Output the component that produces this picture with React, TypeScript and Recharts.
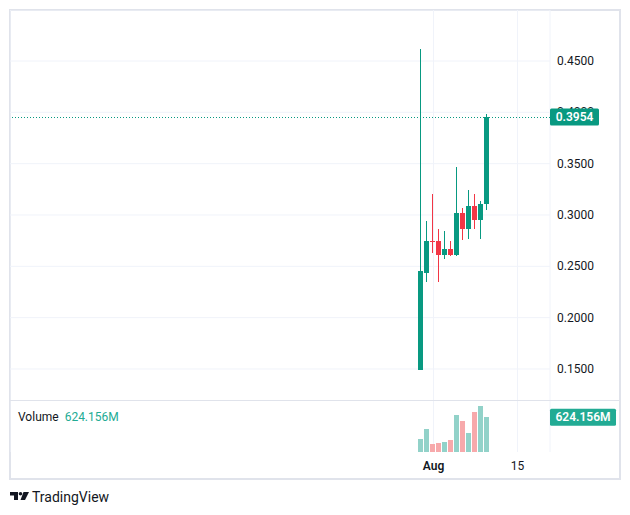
import React from "react";
import {
  ComposedChart,
  Bar,
  XAxis,
  YAxis,
  CartesianGrid,
  ReferenceLine,
} from "recharts";

// Day offsets relative to Aug 1 (Jul 30 .. Aug 10)
const days = [-2, -1, 0, 1, 2, 3, 4, 5, 6, 7, 8, 9];
const opens = [0.149, 0.2438, 0.2745, 0.2747, 0.261, 0.2669, 0.261, 0.302, 0.2864, 0.3088, 0.2951, 0.3107];
const highs = [0.4617, 0.2942, 0.3205, 0.2864, 0.2844, 0.2747, 0.3468, 0.3068, 0.3244, 0.3205, 0.3136, 0.3984];
const lows = [0.149, 0.2347, 0.2633, 0.2347, 0.2571, 0.2601, 0.2605, 0.2757, 0.2766, 0.2864, 0.2766, 0.3049];
const closes = [0.2455, 0.2747, 0.274, 0.261, 0.2669, 0.261, 0.302, 0.2864, 0.3088, 0.2951, 0.3107, 0.3954];
const volumes = [239e6, 422e6, 141e6, 165e6, 184e6, 220e6, 661e6, 551e6, 349e6, 716e6, 826e6, 624.156e6];

const priceTicks = [0.15, 0.2, 0.25, 0.3, 0.35, 0.4, 0.45];
const timeTicks = [0, 14];
const timeLabels: Record<number, string> = { 0: "Aug", 14: "15" };
const lastPrice = 0.3954;
const lastVolumeLabel = "624.156M";

const UP = "#089981";
const DOWN = "#f23645";
const UP_VOL = "#92d2c9";
const DOWN_VOL = "#f7a9ab";
const GRID = "#f0f3fa";
const BORDER = "#e0e3eb";
const TEXT = "#131722";
const FONT = "Roboto, 'Noto Sans', sans-serif";

const data = days.map((d, i) => ({
  day: d,
  open: opens[i],
  high: highs[i],
  low: lows[i],
  close: closes[i],
  volume: volumes[i],
  up: closes[i] >= opens[i],
}));

const xDomain: [number, number] = [-70.583, 19.417];
const yDomain: [number, number] = [0.1188, 0.4997];

const Candle = (props: any) => {
  const { x, y, width, height, payload } = props;
  if (x == null || y == null) return null;
  const top = Math.min(y, y + height);
  const bottom = Math.max(y, y + height);
  const range = payload.high - payload.low;
  const k = range > 0 ? (bottom - top) / range : 0;
  const yOf = (v: number) => top + (payload.high - v) * k;
  const color = payload.up ? UP : DOWN;
  const bx = Math.round(x);
  const bw = Math.round(width);
  const wx = bx + Math.floor(bw / 2);
  const bTop = Math.round(yOf(Math.max(payload.open, payload.close)));
  const bBot = Math.round(yOf(Math.min(payload.open, payload.close)));
  const bh = Math.max(1, bBot - bTop);
  const wTop = Math.round(top);
  const wBot = Math.round(bottom);
  return (
    <g shapeRendering="crispEdges">
      <rect x={wx} y={wTop} width={1} height={Math.max(1, wBot - wTop)} fill={color} />
      <rect x={bx} y={bTop} width={bw} height={bh} fill={color} />
    </g>
  );
};

const VolBar = (props: any) => {
  const { x, y, width, height, payload } = props;
  if (x == null || y == null) return null;
  const top = Math.round(Math.min(y, y + height));
  const bottom = Math.round(Math.max(y, y + height));
  return (
    <rect
      x={Math.round(x)}
      y={top}
      width={Math.round(width)}
      height={bottom - top}
      fill={payload.up ? UP_VOL : DOWN_VOL}
      shapeRendering="crispEdges"
    />
  );
};

const PriceTick = (props: any) => {
  const { x, y, payload } = props;
  return (
    <text
      x={x}
      y={y}
      dominantBaseline="central"
      textAnchor="start"
      fontSize={12}
      fill={TEXT}
      fontFamily={FONT}
    >
      {payload.value.toFixed(4)}
    </text>
  );
};

const TimeTick = (props: any) => {
  const { x, y, payload } = props;
  const label = timeLabels[payload.value] ?? "";
  return (
    <text
      x={x}
      y={y + 14}
      dominantBaseline="central"
      textAnchor="middle"
      fontSize={12}
      fontWeight={label === "Aug" ? 600 : 400}
      fill={TEXT}
      fontFamily={FONT}
    >
      {label}
    </text>
  );
};

const PriceLabel = (props: any) => {
  const { viewBox } = props;
  const x = viewBox.x + viewBox.width;
  const y = viewBox.y;
  return (
    <g>
      <rect x={x} y={y - 8.5} width={49} height={17} rx={1.5} fill={UP} />
      <text
        x={x + 24.5}
        y={y}
        dominantBaseline="central"
        textAnchor="middle"
        fontSize={12}
        fontWeight={600}
        fill="#ffffff"
        fontFamily={FONT}
      >
        {lastPrice.toFixed(4)}
      </text>
    </g>
  );
};

const VolLabel = (props: any) => {
  const { viewBox } = props;
  const x = viewBox.x + viewBox.width;
  const y = viewBox.y;
  return (
    <g>
      <rect x={x} y={y - 8.5} width={66} height={17} rx={1.5} fill="#22ab94" />
      <text
        x={x + 33}
        y={y}
        dominantBaseline="central"
        textAnchor="middle"
        fontSize={12}
        fontWeight={600}
        fill="#ffffff"
        fontFamily={FONT}
      >
        {lastVolumeLabel}
      </text>
    </g>
  );
};

const Logo = () => (
  <svg width={22} height={10} style={{ position: "absolute", left: 2, top: 484 }}>
    <path d="M0 0 H8 V8 H4 V3.5 H0 Z" fill={TEXT} />
    <circle cx={10.5} cy={1.8} r={1.8} fill={TEXT} />
    <path d="M13.5 0 H19 L15 8 H10.5 Z" fill={TEXT} />
  </svg>
);

export default function App() {
  return (
    <div style={{ position: "relative", width: 614, height: 500, fontFamily: FONT }}>
      <div
        style={{
          position: "absolute",
          left: 1,
          top: 1,
          width: 612,
          height: 471,
          border: `2px solid ${BORDER}`,
          boxSizing: "border-box",
        }}
      />
      <div style={{ position: "absolute", left: 2, top: 2 }}>
        <ComposedChart
          width={610}
          height={391}
          data={data}
          margin={{ top: 0, right: 0, bottom: 0, left: 0 }}
        >
          <CartesianGrid stroke={GRID} strokeWidth={1} />
          <XAxis
            dataKey="day"
            type="number"
            domain={xDomain}
            allowDataOverflow
            ticks={timeTicks}
            hide
          />
          <YAxis
            orientation="right"
            width={70}
            domain={yDomain}
            allowDataOverflow
            ticks={priceTicks}
            axisLine={false}
            tickLine={false}
            tickSize={0}
            tickMargin={7}
            tick={<PriceTick />}
          />
          <Bar
            dataKey={(d: any) => [d.low, d.high]}
            barSize={5}
            shape={<Candle />}
            isAnimationActive={false}
          />
          <ReferenceLine
            y={lastPrice}
            stroke={UP}
            strokeWidth={1}
            strokeDasharray="1 2"
            shapeRendering="crispEdges"
          />
        </ComposedChart>
      </div>
      {/* overlay with the last-price label, drawn above the axis tick labels */}
      <div style={{ position: "absolute", left: 2, top: 2, pointerEvents: "none" }}>
        <ComposedChart
          width={610}
          height={391}
          data={data}
          margin={{ top: 0, right: 0, bottom: 0, left: 0 }}
        >
          <XAxis dataKey="day" type="number" domain={xDomain} allowDataOverflow hide />
          <YAxis
            orientation="right"
            width={70}
            domain={yDomain}
            allowDataOverflow
            tick={false}
            axisLine={false}
            tickLine={false}
          />
          <ReferenceLine y={lastPrice} stroke="none" label={<PriceLabel />} />
        </ComposedChart>
      </div>
      <div
        style={{
          position: "absolute",
          left: 2,
          top: 392,
          width: 610,
          height: 1,
          background: BORDER,
        }}
      />
      <div style={{ position: "absolute", left: 2, top: 393 }}>
        <ComposedChart
          width={610}
          height={79}
          data={data}
          margin={{ top: 0, right: 0, bottom: 0, left: 0 }}
        >
          <CartesianGrid stroke={GRID} horizontal={false} />
          <XAxis
            dataKey="day"
            type="number"
            domain={xDomain}
            allowDataOverflow
            ticks={timeTicks}
            axisLine={false}
            tickLine={false}
            tickSize={0}
            tickMargin={0}
            height={28}
            tick={<TimeTick />}
            interval={0}
          />
          <YAxis
            orientation="right"
            width={70}
            domain={[0, 918e6]}
            allowDataOverflow
            tick={false}
            axisLine={false}
            tickLine={false}
          />
          <Bar dataKey="volume" barSize={5} shape={<VolBar />} isAnimationActive={false} />
          <ReferenceLine y={volumes[volumes.length - 1]} stroke="none" label={<VolLabel />} />
        </ComposedChart>
      </div>
      <div
        style={{
          position: "absolute",
          left: 10,
          top: 401,
          fontSize: 12,
          color: TEXT,
          lineHeight: "17px",
          whiteSpace: "nowrap",
        }}
      >
        Volume
        <span style={{ color: "#22ab94", marginLeft: 6 }}>{lastVolumeLabel}</span>
      </div>
      <Logo />
      <div
        style={{
          position: "absolute",
          left: 24,
          top: 480,
          fontSize: 14,
          color: TEXT,
          lineHeight: "18px",
          whiteSpace: "nowrap",
        }}
      >
        TradingView
      </div>
    </div>
  );
}
